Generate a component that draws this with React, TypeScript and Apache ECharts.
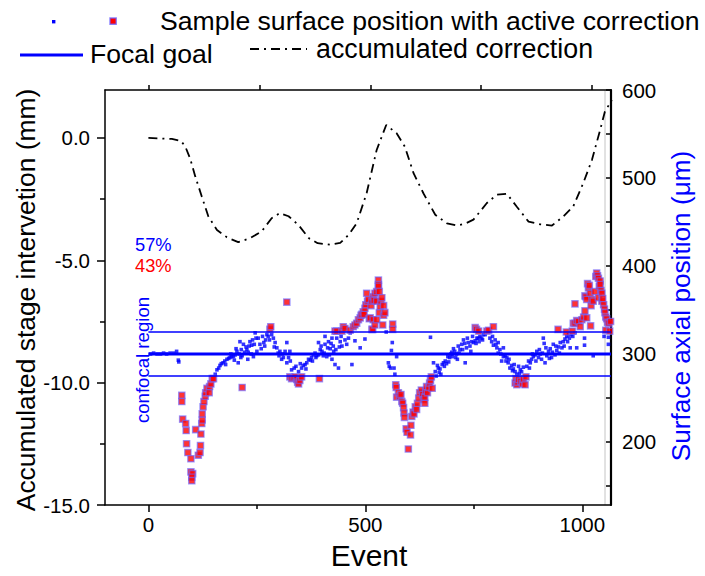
import React, { useEffect, useRef } from "react";
import * as echarts from "echarts";

const FONT = '"Liberation Sans", Arial, Helvetica, sans-serif';

// accumulated correction (left axis, mm)
const correctionEvent = [0, 54, 75, 85, 96, 108, 123, 138, 158, 181, 207, 234, 261, 284, 303, 323, 346, 370, 390, 419, 442, 462, 480, 503, 526, 548, 572, 591, 611, 634, 661, 688, 711, 730, 749, 780, 803, 826, 849, 876, 903, 930, 956, 979, 1002, 1022, 1041, 1052, 1068];
const correctionMm = [0, -0.04, -0.12, -0.35, -0.83, -1.57, -2.39, -3.2, -3.76, -4.06, -4.26, -4.1, -3.82, -3.28, -3.07, -3.2, -3.56, -4.1, -4.3, -4.36, -4.29, -3.95, -3.48, -2.25, -0.49, 0.53, 0.19, -0.36, -1.44, -2.27, -3.14, -3.49, -3.58, -3.5, -3.34, -2.66, -2.32, -2.28, -2.81, -3.42, -3.53, -3.58, -3.21, -2.8, -1.85, -0.9, 0.33, 1.08, 1.55];

// sample surface positions inside confocal region (right axis, µm)
const inRegion = [
  [5, 300], [12, 301], [20, 300], [28, 300], [35, 301], [42, 300], [50, 301], [58, 301], [65, 303], [69, 293], [70, 291],
  [154, 277], [158, 282], [162, 284], [165, 287], [168, 289], [172, 290], [176, 292], [181, 294], [185, 295], [188, 296], [192, 297], [196, 297], [200, 299], [204, 303], [207, 290], [209, 300], [211, 314], [214, 305], [216, 298], [219, 311], [222, 302], [225, 308], [227, 305], [229, 294], [232, 309], [234, 314], [237, 300], [240, 316], [242, 297], [244, 311], [246, 324], [248, 318], [250, 303],
  [178, 288], [190, 300], [198, 293], [202, 306], [213, 296], [230, 302], [238, 310],
  [253, 318], [257, 311], [260, 306], [263, 320], [266, 313], [270, 316], [273, 322], [276, 320], [284, 322], [288, 318], [292, 313], [296, 307], [299, 301], [303, 303], [307, 294], [311, 296], [315, 303], [319, 313], [319, 290], [323, 296], [326, 303], [330, 282],
  [268, 309], [279, 316], [290, 308], [301, 298], [309, 300], [327, 292],
  [336, 284], [346, 280], [353, 284], [357, 287], [361, 288], [365, 290], [369, 294], [373, 293], [376, 296], [380, 299], [384, 301], [388, 298], [392, 299], [392, 313], [396, 305], [400, 303], [403, 298], [407, 311], [407, 320], [411, 297], [415, 314], [419, 306], [423, 318], [423, 294], [427, 303], [430, 288], [434, 318], [438, 284], [442, 314], [446, 309],
  [340, 286], [350, 289], [363, 283], [378, 292], [386, 296], [398, 309], [405, 301], [413, 307], [417, 299], [421, 312], [426, 309], [432, 305], [440, 308], [444, 320],
  [453, 316], [457, 311], [461, 318], [465, 324], [469, 288], [476, 315], [488, 307], [499, 317], [548, 325], [553, 290], [555, 286], [558, 284], [560, 304], [562, 313], [566, 284], [568, 277], [572, 297],
  [650, 319], [657, 290], [661, 280], [663, 275], [666, 287], [668, 284], [672, 283], [674, 277], [677, 288], [680, 290], [684, 292], [687, 289], [690, 297], [694, 296], [697, 300], [700, 297], [703, 306], [706, 303], [710, 300], [712, 294], [714, 309], [718, 305], [722, 311], [726, 316], [730, 290], [733, 307], [737, 313], [741, 309], [745, 314], [749, 313], [753, 315], [757, 318], [760, 318], [764, 320], [768, 318], [772, 322], [776, 322],
  [670, 279], [682, 286], [692, 291], [699, 302], [708, 296], [716, 301], [724, 305], [729, 312], [735, 318], [743, 303], [747, 320], [755, 312], [762, 314], [770, 316],
  [787, 318], [791, 314], [795, 310], [799, 316], [803, 307], [806, 313], [806, 301], [810, 305], [814, 292], [818, 307], [818, 297], [822, 298], [826, 296], [829, 290], [833, 284], [837, 287], [841, 283], [845, 280], [849, 277], [853, 286], [857, 282], [860, 280], [864, 285],
  [793, 320], [801, 311], [812, 300], [824, 292], [831, 294], [839, 281], [843, 288], [855, 278],
  [872, 286], [876, 292], [880, 290], [883, 294], [887, 297], [891, 299], [895, 303], [899, 296], [903, 300], [906, 294], [910, 318], [912, 312], [914, 290], [918, 298], [922, 303], [926, 306], [929, 296], [933, 311], [937, 299], [941, 304], [945, 308], [949, 313], [953, 307], [956, 314], [960, 317], [964, 320], [968, 322], [972, 307], [974, 322], [978, 320], [983, 324], [987, 307], [1005, 318], [1005, 310], [1025, 298], [1050, 320], [1060, 319], [1060, 311],
  [878, 284], [885, 300], [893, 292], [901, 305], [908, 301], [916, 307], [924, 295], [931, 302], [939, 309], [947, 301], [958, 309], [966, 314], [970, 318],
];

// sample surface positions outside confocal region (right axis, µm)
const outRegion = [
  [77, 253], [77, 246], [79, 226], [86, 221], [87, 213], [88, 198], [91, 188], [98, 181], [98, 166], [102, 164], [100, 160], [100, 156], [109, 214], [115, 185], [119, 188], [120, 196], [121, 209], [123, 221], [124, 225], [124, 232], [126, 240], [128, 246], [131, 252], [132, 256], [135, 261], [140, 256], [141, 263], [144, 266], [147, 272], [150, 272], [216, 262],
  [280, 328], [282, 331], [319, 359], [326, 274], [330, 272], [334, 273], [338, 274], [342, 271], [344, 268], [346, 266], [349, 270], [353, 274], [394, 272],
  [430, 326], [434, 326], [446, 326], [449, 331], [453, 329], [465, 327], [472, 331], [476, 333], [480, 335], [484, 339], [488, 341], [490, 344], [492, 345], [495, 348], [497, 345], [499, 352], [501, 356], [503, 369], [505, 360], [507, 362], [509, 340], [511, 341], [513, 355], [515, 328], [515, 360], [517, 328], [518, 339], [518, 365], [520, 361], [522, 369], [522, 333], [526, 371], [526, 360], [526, 339], [530, 384], [530, 379], [530, 377], [532, 371], [532, 347], [534, 354], [536, 360], [538, 364], [540, 333], [542, 355], [542, 344], [545, 347], [563, 334], [563, 328],
  [570, 265], [571, 262], [572, 251], [576, 256], [579, 252], [582, 254], [584, 246], [586, 244], [588, 239], [589, 233], [590, 228], [594, 215], [596, 211], [599, 192], [604, 208], [605, 219], [607, 229], [610, 234], [612, 232], [615, 240], [618, 237], [620, 244], [623, 250], [625, 256], [629, 259], [632, 254], [634, 248], [637, 244], [637, 251], [639, 258], [641, 263], [643, 256], [646, 262], [648, 267], [650, 270], [652, 274], [654, 261],
  [753, 330], [756, 328], [761, 326], [780, 326], [784, 327], [795, 331],
  [845, 267], [847, 272], [849, 265], [851, 268], [853, 271], [858, 269], [862, 266], [864, 271], [868, 265], [870, 274],
  [944, 328], [963, 325], [977, 326], [979, 335], [983, 357], [983, 335], [987, 338], [991, 337], [995, 331], [999, 339], [1003, 342], [1006, 349], [1006, 366], [1008, 365], [1010, 362], [1010, 341], [1012, 380], [1014, 375], [1016, 378], [1018, 369], [1019, 332], [1020, 355], [1022, 362], [1025, 360], [1029, 371], [1031, 388], [1033, 392], [1035, 389], [1037, 386], [1037, 364], [1039, 377], [1041, 383], [1041, 379], [1043, 372], [1045, 369], [1045, 360], [1047, 363], [1049, 356], [1051, 351], [1052, 347], [1054, 342], [1054, 327], [1056, 340], [1058, 336], [1061, 335], [1063, 326], [1065, 337],
];

// focal goal and confocal region bounds (µm)
const goalEvents = [0, 1066];
const focalGoal = 300;
const regionLow = 275;
const regionHigh = 325;

const xTickLabels = [0, 500, 1000];
const xMinorTicks = [250, 750];
const xTopTicks = [0, 250, 500, 750, 1000];
const yLeftLabels = [-15, -10, -5, 0];
const yLeftMinor = [-12.5, -7.5, -2.5];
const yRightLabels = [200, 300, 400, 500, 600];
const yRightTicks = [150, 200, 250, 300, 350, 400, 450, 500, 550, 600];

const txt = (text: string, x: number, y: number, size: number, fill: string, rotation = 0, align = "center") => ({
  type: "text",
  x,
  y,
  rotation,
  silent: true,
  style: { text, fontSize: size, fontFamily: FONT, fill, align, verticalAlign: "middle" },
});

export default function App() {
  const ref = useRef<HTMLDivElement>(null);
  useEffect(() => {
    document.body.style.margin = "0";
    const chart = echarts.init(ref.current!, null, { renderer: "svg" });
    const black = "#000";
    const hLine = (v: number) => goalEvents.map((e) => [e, v]);
    const redStyle = { color: "#ff0000", borderColor: "rgba(110,100,255,0.8)", borderWidth: 1.4 };
    chart.setOption({
      animation: false,
      backgroundColor: "#fff",
      grid: { left: 105, right: 94, top: 90, bottom: 71, containLabel: false },
      xAxis: [
        {
          type: "value", min: -100, max: 1066, position: "bottom",
          axisLine: { onZero: false, lineStyle: { color: black, width: 1.5 } },
          axisTick: { customValues: xTickLabels, length: 7, lineStyle: { color: black, width: 1.5 } },
          axisLabel: { customValues: xTickLabels, fontSize: 20.5, color: black, fontFamily: FONT, margin: 9, formatter: (v: number) => String(v) },
          splitLine: { show: false },
        },
        {
          type: "value", min: -100, max: 1066, position: "bottom",
          axisLine: { show: false, onZero: false },
          axisTick: { customValues: xMinorTicks, length: 4, lineStyle: { color: black, width: 1.5 } },
          axisLabel: { show: false },
          splitLine: { show: false },
        },
        {
          type: "value", min: -99, max: 1043, position: "top",
          axisLine: { onZero: false, lineStyle: { color: black, width: 1.5 } },
          axisTick: { customValues: xTopTicks, length: 5, lineStyle: { color: black, width: 1.5 } },
          axisLabel: { show: false },
          splitLine: { show: false },
        },
      ],
      yAxis: [
        {
          type: "value", min: -15, max: 1.96, position: "left",
          axisLine: { show: true, onZero: false, lineStyle: { color: black, width: 1.5 } },
          axisTick: { show: true, customValues: yLeftLabels, length: 8, lineStyle: { color: black, width: 1.5 } },
          axisLabel: { customValues: yLeftLabels, fontSize: 20.5, color: black, fontFamily: FONT, margin: 15, formatter: (v: number) => v.toFixed(1) },
          splitLine: { show: false },
        },
        {
          type: "value", min: -15, max: 1.96, position: "left",
          axisLine: { show: false, onZero: false },
          axisTick: { show: true, customValues: yLeftMinor, length: 5, lineStyle: { color: black, width: 1.5 } },
          axisLabel: { show: false },
          splitLine: { show: false },
        },
        {
          type: "value", min: 128.4, max: 600, position: "right",
          axisLine: { show: true, onZero: false, lineStyle: { color: black, width: 2.2 } },
          axisTick: { show: true, inside: true, customValues: yRightTicks, length: 5, lineStyle: { color: black, width: 1.5 } },
          axisLabel: { customValues: yRightLabels, fontSize: 20.5, color: black, fontFamily: FONT, margin: 11 },
          splitLine: { show: false },
        },
      ],
      series: [
        {
          type: "line", xAxisIndex: 0, yAxisIndex: 2, data: hLine(regionHigh), symbol: "none",
          lineStyle: { color: "#0000ff", width: 1.3 }, silent: true,
        },
        {
          type: "line", xAxisIndex: 0, yAxisIndex: 2, data: hLine(regionLow), symbol: "none",
          lineStyle: { color: "#0000ff", width: 1.3 }, silent: true,
        },
        {
          type: "line", xAxisIndex: 0, yAxisIndex: 2, data: hLine(focalGoal), symbol: "none",
          lineStyle: { color: "#0000ff", width: 3 }, silent: true,
        },
        {
          type: "scatter", xAxisIndex: 0, yAxisIndex: 2, data: inRegion, symbol: "rect", symbolSize: 3.6,
          itemStyle: { color: "#0000ff" },
        },
        {
          type: "scatter", xAxisIndex: 0, yAxisIndex: 2, data: outRegion, symbol: "rect", symbolSize: 6.2,
          itemStyle: redStyle,
        },
        {
          type: "line", xAxisIndex: 0, yAxisIndex: 0,
          data: correctionEvent.map((e, i) => [e, correctionMm[i]]),
          symbol: "none", clip: true,
          lineStyle: { color: black, width: 1.8, type: [9, 5, 2, 5] },
        },
      ],
      graphic: [
        { type: "line", silent: true, shape: { x1: 605, y1: 90, x2: 605, y2: 505 }, style: { stroke: "#c4c4c4", lineWidth: 1 } },
        // legend row 1
        { type: "rect", silent: true, shape: { x: 52, y: 20, width: 3.4, height: 3.4 }, style: { fill: "#0000ff" } },
        { type: "rect", silent: true, shape: { x: 110, y: 18, width: 6.2, height: 6.2 }, style: { fill: "#ff0000", stroke: "rgba(110,100,255,0.8)", lineWidth: 1.4 } },
        txt("Sample surface position with active correction", 160, 21, 26.6, black, 0, "left"),
        // legend row 2
        { type: "line", silent: true, shape: { x1: 20, y1: 55, x2: 83, y2: 55 }, style: { stroke: "#0000ff", lineWidth: 3 } },
        txt("Focal goal", 90, 54, 26.6, black, 0, "left"),
        { type: "line", silent: true, shape: { x1: 250, y1: 49, x2: 307, y2: 49 }, style: { stroke: black, lineWidth: 1.8, lineDash: [9, 5, 2, 5] } },
        txt("accumulated correction", 316, 49, 26.8, black, 0, "left"),
        // axis titles
        txt("Accumulated stage intervetion (mm)", 26, 300, 26.4, black, Math.PI / 2),
        txt("Surface axial position (\u03bcm)", 681, 306, 26.2, "#0000ff", Math.PI / 2),
        txt("Event", 369, 555, 30, black),
        // annotations
        txt("57%", 135, 244, 18.3, "#0000ff", 0, "left"),
        txt("43%", 135, 265, 18.3, "#ff0000", 0, "left"),
        txt("confocal region", 142, 360, 18.6, "#0000ff", Math.PI / 2),
      ],
    });
    return () => chart.dispose();
  }, []);
  return <div ref={ref} style={{ width: 705, height: 576 }} />;
}
